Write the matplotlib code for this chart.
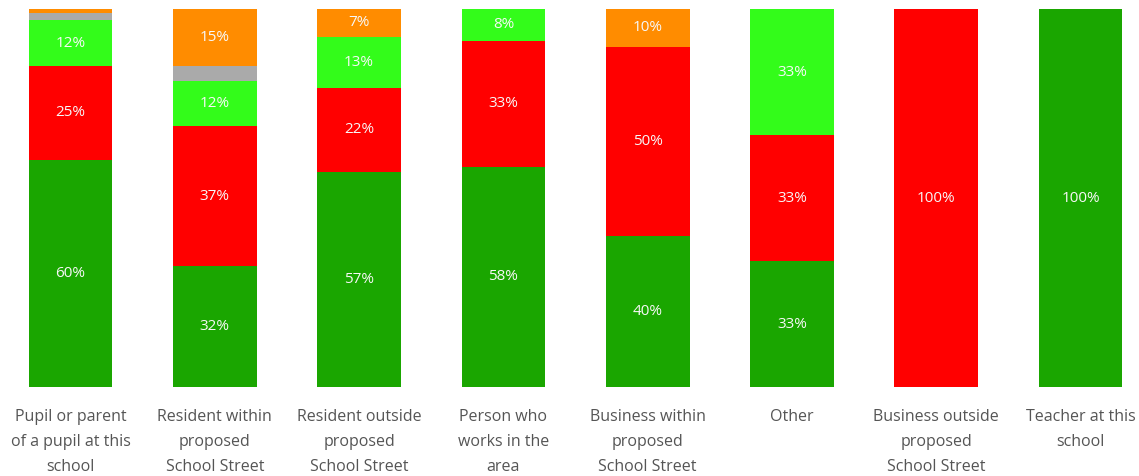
import matplotlib
matplotlib.use("Agg")
import matplotlib.pyplot as plt
import numpy as np

categories = [
    "Pupil or parent\nof a pupil at this\nschool",
    "Resident within\nproposed\nSchool Street",
    "Resident outside\nproposed\nSchool Street",
    "Person who\nworks in the\narea",
    "Business within\nproposed\nSchool Street",
    "Other",
    "Business outside\nproposed\nSchool Street",
    "Teacher at this\nschool",
]

support = [60, 32, 57.0, 58.3, 40, 33.3, 0, 100]
oppose = [25, 37, 22.2, 33.3, 50, 33.3, 100, 0]
partly = [12, 12, 13.4, 8.4, 0, 33.4, 0, 0]
neutral = [2, 4, 0, 0, 0, 0, 0, 0]
dont_know = [1, 15, 7.4, 0, 10, 0, 0, 0]

series = [support, oppose, partly, neutral, dont_know]
colors = ["#1aa600", "#ff0000", "#33fc1a", "#aaaaaa", "#ff8c00"]

W, H = 1139, 476
fig = plt.figure(figsize=(W / 100, H / 100), dpi=100)
spacing = 144.3
c0 = 70.5
xl, xr = -0.45, 7.4
left_px = c0 + xl * spacing
width_px = (xr - xl) * spacing
ax = fig.add_axes([left_px / W, 89 / H, width_px / W, 378 / H])

x = np.arange(len(categories))
bottom = np.zeros(len(categories))
for vals, col in zip(series, colors):
    v = np.array(vals, dtype=float)
    ax.bar(x, v, bottom=bottom, width=0.58, color=col, linewidth=0)
    for xi, b, val in zip(x, bottom, v):
        if val >= 5:
            ax.text(xi, b + val / 2, f"{val:.0f}%", ha="center", va="center",
                    color="#f8f8f8", fontsize=11, family="Open Sans")
    bottom += v

ax.set_xlim(xl, xr)
ax.set_ylim(0, 100)
ax.set_xticks(x)
ax.set_xticklabels(categories, fontsize=11.5, family="Open Sans", color="#555555",
                   linespacing=1.72, va="top")
ax.tick_params(axis="x", length=0, pad=16)
ax.set_yticks([])
for s in ax.spines.values():
    s.set_visible(False)

fig.savefig("out.png", dpi=100)
